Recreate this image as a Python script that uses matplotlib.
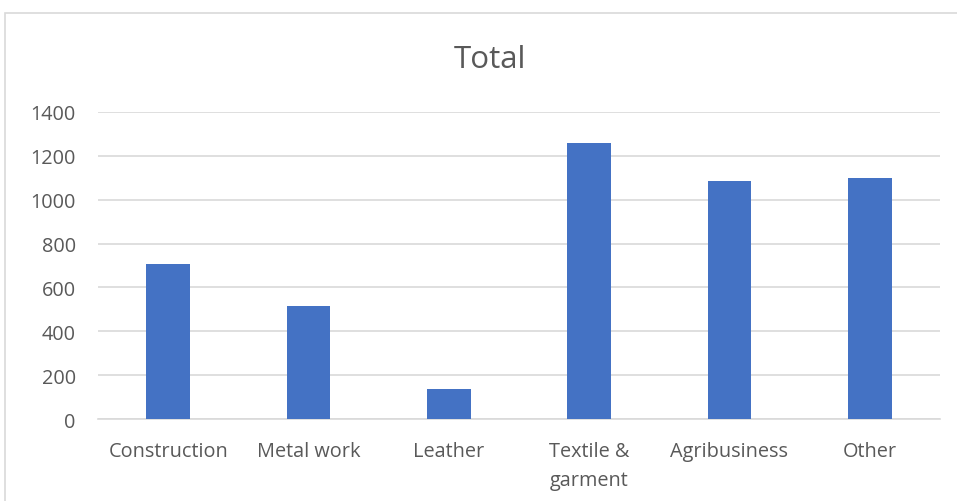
import matplotlib.pyplot as plt
import matplotlib.patches as patches
import numpy as np

categories = ['Construction', 'Metal work', 'Leather', 'Textile &\ngarment', 'Agribusiness', 'Other']
values = [709, 514, 137, 1257, 1087, 1098]
yticks = [0, 200, 400, 600, 800, 1000, 1200, 1400]

plt.rcParams['font.family'] = ['Open Sans', 'DejaVu Sans']

W, H = 957, 502
fig = plt.figure(figsize=(W / 100, H / 100), dpi=100)

# chart border (cut off on the right and bottom like the screenshot)
fig.patches.append(patches.Rectangle((5 / W, -0.1), 1.2, 1 - 14 / H + 0.1,
                                     transform=fig.transFigure, fill=False,
                                     edgecolor='#d9d9d9', linewidth=1.2))

ax = fig.add_axes([98 / W, 1 - 420 / H, (940 - 98) / W, (420 - 113) / H])
x = np.arange(len(categories))
ax.bar(x, values, width=0.31, color='#4472c4', zorder=3)

ax.set_xlim(-0.5, len(categories) - 0.5)
ax.set_ylim(0, 1400)
ax.set_yticks(yticks)
ax.set_xticks(x)
ax.set_xticklabels(categories, fontsize=14.3, color='#595959', linespacing=1.6)
ax.tick_params(axis='y', labelsize=14.3, labelcolor='#595959', length=0, pad=16)
ax.tick_params(axis='x', length=0, pad=16)
ax.grid(axis='y', color='#d9d9d9', linewidth=1.2, zorder=0)
for s in ['top', 'right', 'left']:
    ax.spines[s].set_visible(False)
ax.spines['bottom'].set_color('#d9d9d9')
ax.spines['bottom'].set_linewidth(1.2)

fig.text(490 / W, 1 - 60 / H, 'Total', ha='center', va='center',
         fontsize=22.5, color='#595959')

plt.savefig('out.png', dpi=100)
